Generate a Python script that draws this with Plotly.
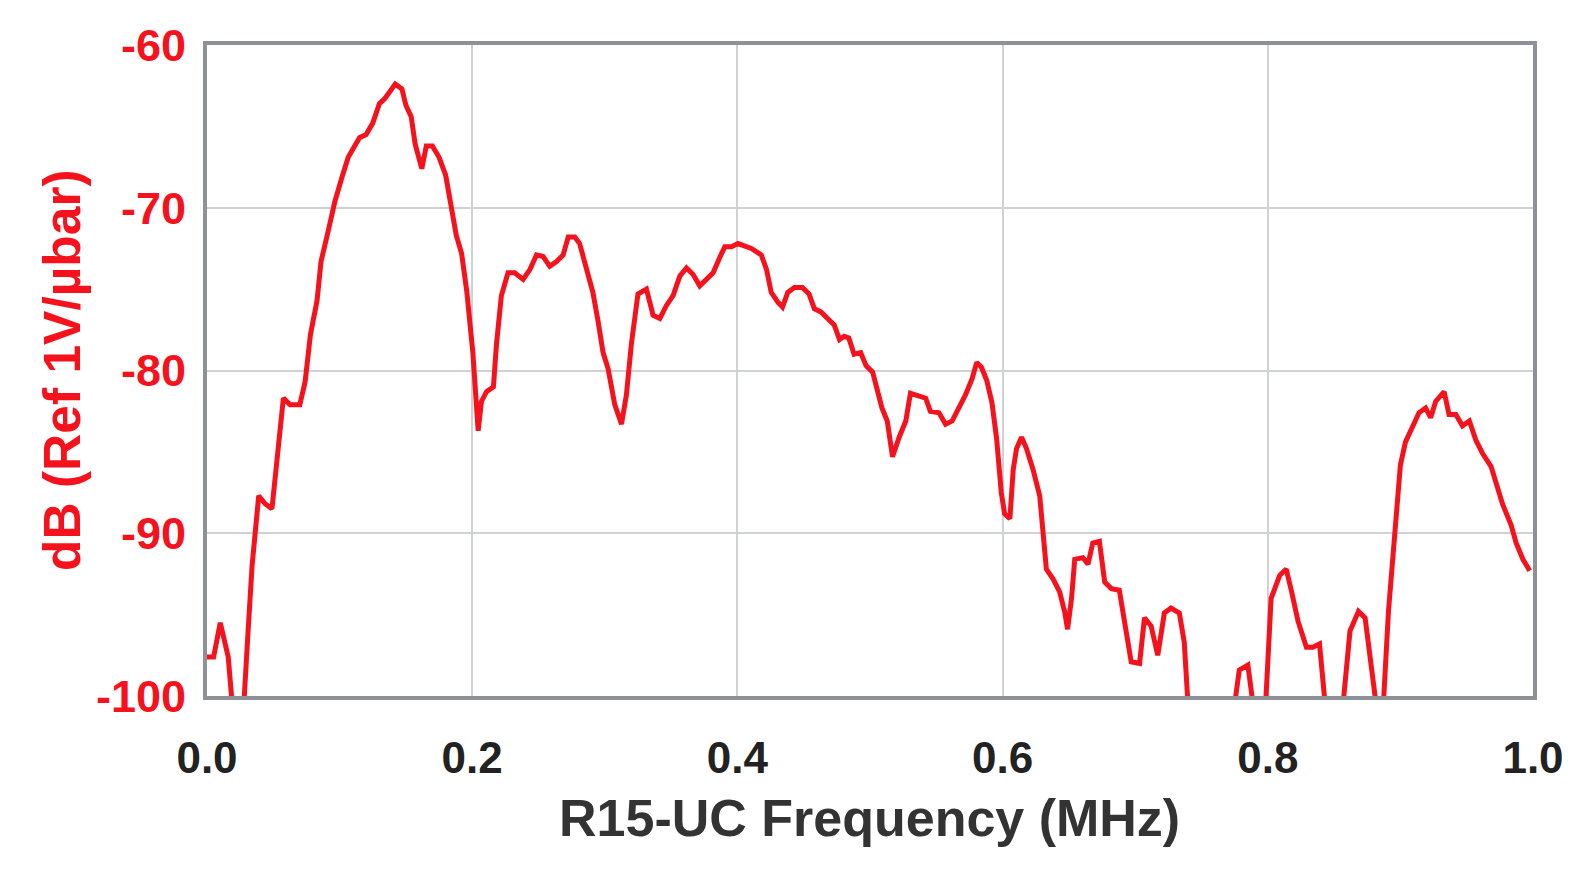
import plotly.graph_objects as go

freq_mhz = [
    0.000, 0.005, 0.010, 0.014, 0.016, 0.019, 0.022, 0.026, 0.028, 0.031,
    0.034, 0.039, 0.044, 0.049, 0.0576, 0.0627, 0.070, 0.074, 0.078, 0.083,
    0.086, 0.0915, 0.0965, 0.1015, 0.1065, 0.115, 0.120, 0.125, 0.130, 0.134,
    0.138, 0.142, 0.147, 0.150, 0.154, 0.157, 0.162, 0.1654, 0.170, 0.175,
    0.180, 0.184, 0.188, 0.192, 0.196, 0.2005, 0.2045, 0.207, 0.2108, 0.216,
    0.2183, 0.222, 0.227, 0.232, 0.2384, 0.2435, 0.2485, 0.2535, 0.2585, 0.2636,
    0.2686, 0.2724, 0.2774, 0.281, 0.286, 0.291, 0.295, 0.2987, 0.3025, 0.3075,
    0.3126, 0.3163, 0.320, 0.325, 0.3314, 0.3364, 0.3415, 0.3465, 0.3515, 0.3566,
    0.3616, 0.3666, 0.3716, 0.3767, 0.3817, 0.387, 0.3905, 0.3955, 0.4005, 0.4105,
    0.418, 0.422, 0.4255, 0.4305, 0.434, 0.438, 0.443, 0.449, 0.454, 0.458,
    0.463, 0.468, 0.473, 0.477, 0.4805, 0.484, 0.488, 0.493, 0.497, 0.502,
    0.5055, 0.509, 0.513, 0.517, 0.522, 0.527, 0.5305, 0.5355, 0.542, 0.5455,
    0.552, 0.557, 0.562, 0.567, 0.572, 0.577, 0.5805, 0.584, 0.588, 0.592,
    0.5955, 0.599, 0.6015, 0.6055, 0.608, 0.6105, 0.6143, 0.618, 0.623, 0.628,
    0.6306, 0.633, 0.638, 0.643, 0.647, 0.649, 0.652, 0.6544, 0.6606, 0.6644,
    0.668, 0.673, 0.677, 0.682, 0.688, 0.693, 0.697, 0.7033, 0.707, 0.712,
    0.717, 0.722, 0.727, 0.7333, 0.737, 0.7396, 0.745, 0.760, 0.775, 0.7785,
    0.785, 0.7885, 0.793, 0.7985, 0.8025, 0.8089, 0.8139, 0.8177, 0.8228, 0.8291,
    0.834, 0.839, 0.843, 0.850, 0.857, 0.862, 0.8684, 0.8734, 0.877, 0.881,
    0.884, 0.8873, 0.891, 0.896, 0.900, 0.9038, 0.9089, 0.914, 0.919, 0.9228,
    0.9266, 0.933, 0.9367, 0.9418, 0.9468, 0.952, 0.957, 0.962, 0.9684, 0.972,
    0.977, 0.9835, 0.9873, 0.9924, 0.9975,
]

level_db = [
    -97.6, -97.6, -95.5, -97.0, -97.6, -100.5, -103.0, -102.0, -100.2, -96.0,
    -92.0, -87.7, -88.2, -88.5, -81.7, -82.1, -82.1, -80.7, -77.8, -75.7,
    -73.3, -71.4, -69.6, -68.2, -66.9, -65.7, -65.5, -64.8, -63.6, -63.3,
    -62.9, -62.4, -62.7, -63.7, -64.4, -66.1, -67.6, -66.2, -66.2, -66.9,
    -68.0, -69.8, -71.7, -72.8, -75.2, -78.9, -83.7, -81.9, -81.3, -81.0,
    -78.4, -75.4, -74.0, -74.0, -74.4, -73.8, -72.9, -73.0, -73.6, -73.3,
    -72.9, -71.8, -71.8, -72.2, -73.6, -75.2, -77.0, -78.9, -79.9, -82.1,
    -83.3, -81.5, -78.4, -75.3, -75.0, -76.6, -76.8, -76.0, -75.4, -74.2,
    -73.7, -74.1, -74.8, -74.4, -74.0, -73.0, -72.4, -72.4, -72.2, -72.5,
    -72.9, -73.8, -75.2, -75.8, -76.1, -75.2, -74.9, -74.9, -75.3, -76.2,
    -76.4, -76.8, -77.2, -78.1, -77.9, -78.0, -79.0, -78.9, -79.7, -80.1,
    -81.3, -82.3, -83.1, -85.3, -84.1, -83.1, -81.4, -81.5, -81.7, -82.5,
    -82.6, -83.3, -83.1, -82.3, -81.5, -80.5, -79.5, -79.8, -80.6, -82.0,
    -84.2, -87.5, -88.8, -89.1, -86.1, -84.8, -84.1, -84.8, -86.1, -87.7,
    -89.8, -92.2, -92.8, -93.6, -94.9, -95.9, -94.0, -91.6, -91.5, -91.9,
    -90.6, -90.5, -93.0, -93.4, -93.5, -95.9, -97.9, -98.0, -95.2, -95.7,
    -97.5, -94.9, -94.6, -94.9, -96.7, -100.2, -104.0, -105.0, -100.5, -98.4,
    -98.1, -100.3, -103.0, -100.3, -94.0, -92.6, -92.2, -93.5, -95.4, -97.0,
    -97.0, -96.8, -100.3, -103.0, -100.3, -96.0, -94.8, -95.2, -97.6, -100.3,
    -102.0, -100.3, -94.8, -89.8, -85.8, -84.4, -83.4, -82.6, -82.3, -82.9,
    -81.9, -81.3, -82.7, -82.7, -83.4, -83.1, -84.3, -85.1, -85.9, -86.8,
    -88.2, -89.5, -90.6, -91.6, -92.3,
]

x_ticks = [0.0, 0.2, 0.4, 0.6, 0.8, 1.0]
x_tick_labels = ["0.0", "0.2", "0.4", "0.6", "0.8", "1.0"]
y_ticks = [-100, -90, -80, -70, -60]
y_tick_labels = ["-100", "-90", "-80", "-70", "-60"]

x_title = "R15-UC Frequency (MHz)"
y_title = "dB (Ref 1V/µbar)"

RED = "#f5121c"
FONT = "Arial, Liberation Sans, sans-serif"

L, R, T, B = 207, 47, 45, 177
W, H = 1580, 873
plot_w = W - L - R
plot_h = H - T - B

fig = go.Figure()
fig.add_trace(go.Scatter(
    x=freq_mhz, y=level_db, mode="lines",
    line=dict(color=RED, width=5),
    showlegend=False, hoverinfo="skip",
))

fig.update_layout(
    width=W, height=H,
    margin=dict(l=L, r=R, t=T, b=B),
    paper_bgcolor="white", plot_bgcolor="white",
    showlegend=False,
)

fig.update_xaxes(
    range=[0, 1], tickvals=x_ticks, ticktext=x_tick_labels,
    showgrid=True, gridcolor="#d0d1d3", gridwidth=2,
    showline=True, mirror=True, linecolor="#8e9196", linewidth=4,
    ticks="", ticklabelstandoff=20, zeroline=False,
    tickfont=dict(family=FONT, size=44, color="#222222", weight="bold"),
)
fig.update_yaxes(
    range=[-100, -60], tickvals=y_ticks, ticktext=y_tick_labels,
    showgrid=True, gridcolor="#d0d1d3", gridwidth=2,
    showline=True, mirror=True, linecolor="#8e9196", linewidth=4,
    ticks="", ticklabelstandoff=8, zeroline=False,
    tickfont=dict(family=FONT, size=45, color=RED, weight="bold"),
)

fig.add_annotation(
    text=x_title, xref="paper", yref="paper",
    x=(869 - L) / plot_w, y=-(818 - (H - B)) / plot_h,
    xanchor="center", yanchor="middle", showarrow=False,
    font=dict(family=FONT, size=52, color="#333333", weight="bold"),
)
fig.add_annotation(
    text=y_title, xref="paper", yref="paper",
    x=-(L - 62) / plot_w, y=(H - B - 370) / plot_h,
    xanchor="center", yanchor="middle",
    textangle=-90, showarrow=False,
    font=dict(family=FONT, size=51.5, color=RED, weight="bold"),
)

fig.write_html(
    "out.html",
    config={"displayModeBar": False},
    post_script="document.body.style.margin='0px';",
)
